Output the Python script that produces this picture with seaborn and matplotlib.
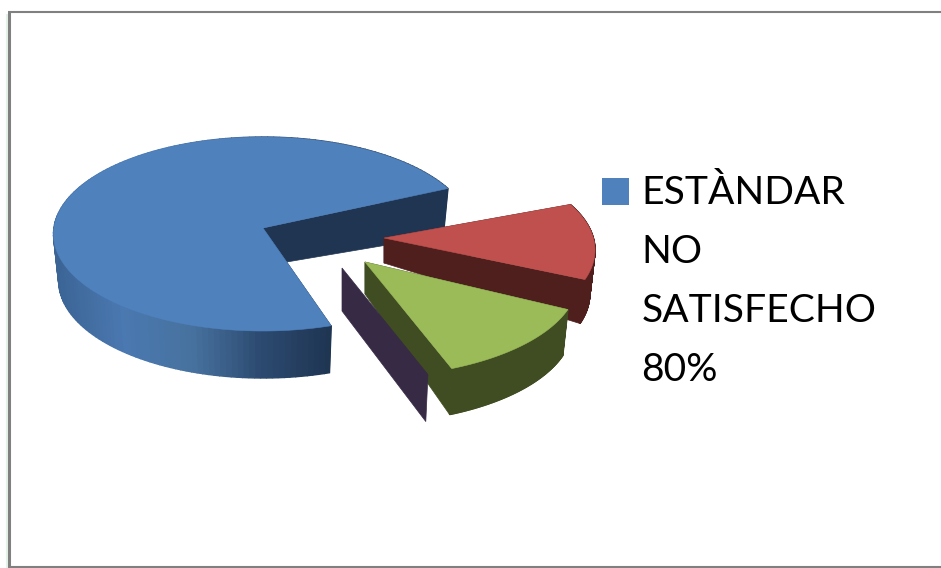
import numpy as np
import matplotlib
matplotlib.use("Agg")
import matplotlib.pyplot as plt
from matplotlib.patches import Polygon, Rectangle
import seaborn as sns

# slice shares (clockwise from the top right cut)
categories = ["Rojo", "Verde", "Morado", "Azul"]
shares = [12.7, 13.4, 1.4, 72.5]
legend_lines = ["ESTÀNDAR", "NO", "SATISFECHO", "80%"]

START_ANGLE = 28
RY = 97
SHRINK = 0.975

# style per slice: apex position, how far the ellipse centre sits below it, depth at apex / rim
style = {
    "Azul": dict(apex=(263, 228), rx=209.5, drop=6, d_apex=38, d_rim=47, top="#4F81BD", face="#1F3552",
                 rim=["#3C6596", "#4A78B0", "#47729F", "#2C4A70", "#1F3552"]),
    "Rojo": dict(apex=(384, 238), rx=211, drop=12, d_apex=25, d_rim=44, top="#C0504D", face="#4F1F1E",
                 rim=["#4F1F1E", "#4F1F1E"]),
    "Verde": dict(apex=(365, 262), rx=213, drop=18, d_apex=32, d_rim=46, top="#9BBB59", face="#404D22",
                  rim=["#404D22", "#404D22"]),
    "Morado": dict(apex=(342, 268), rx=211, drop=18, d_apex=43, d_rim=47, top=None, face="#372A45", rim=None),
}

sns.set_theme(style="white")
plt.rcParams["font.family"] = ["Lato", "DejaVu Sans"]

fig = plt.figure(figsize=(9.41, 5.68), dpi=100)
ax = fig.add_axes([0, 0, 1, 1])
ax.set_xlim(0, 941)
ax.set_ylim(568, 0)
ax.axis("off")


def rim_xy(st, deg):
    ax0, ay0 = st["apex"]
    rad = np.radians(deg)
    return np.column_stack([ax0 + st["rx"] * np.cos(rad), ay0 + st["drop"] - RY * np.sin(rad)])


def lowered(st, xy, depth):
    out = xy.copy()
    out[:, 0] = st["apex"][0] + (xy[:, 0] - st["apex"][0]) * SHRINK
    out[:, 1] = xy[:, 1] + depth
    return out


def radial_face(st, deg, z):
    outer = rim_xy(st, np.array([deg]))
    apex = np.array([st["apex"]], dtype=float)
    pts = np.vstack([apex, outer, lowered(st, outer, st["d_rim"]), apex + [0, st["d_apex"]]])
    ax.add_patch(Polygon(pts, closed=True, fc=st["face"], ec=st["face"], lw=0.5, zorder=z))


def draw_slice(name, a0, a1, z):
    st = style[name]
    radial_face(st, a0, z)
    if st["top"] is None:
        return
    radial_face(st, a1, z)
    deg = np.linspace(a0, a1, 160)
    edge = rim_xy(st, deg)
    low = lowered(st, edge, st["d_rim"])
    cols = sns.blend_palette(st["rim"], 101)
    for i in range(len(deg) - 1):
        t = (edge[i, 0] - (st["apex"][0] - st["rx"])) / (2 * st["rx"])
        if name == "Azul":
            t = np.clip((edge[i, 0] - 53) / (332 - 53), 0, 1)
        c = cols[int(np.clip(t, 0, 1) * 100)]
        quad = [edge[i], edge[i + 1], low[i + 1], low[i]]
        ax.add_patch(Polygon(quad, closed=True, fc=c, ec=c, lw=1.0, zorder=z + 0.1))
    top = np.vstack([[st["apex"]], edge])
    ax.add_patch(Polygon(top, closed=True, fc=st["top"], ec=st["top"], lw=0.4, zorder=z + 0.2))


angle = START_ANGLE
order = {"Azul": 1, "Rojo": 2, "Verde": 3, "Morado": 4}
for name, share in zip(categories, shares):
    span = share / sum(shares) * 360
    draw_slice(name, angle, angle - span, order[name])
    angle -= span

# legend: single entry, as in the original
ax.add_patch(Rectangle((602, 178), 27, 27, fc=style["Azul"]["top"], ec="none", zorder=6))
for i, line in enumerate(legend_lines):
    ax.text(641.5, 204.5 + i * 58.7, line, fontsize=28.1, color="black", ha="left", va="baseline", zorder=6)

# chart frame, no right side in the picture
frame = "#808080"
ax.plot([9.5, 9.5], [12, 568], color=frame, lw=2.2, zorder=7, solid_capstyle="butt")
ax.plot([8.5, 941], [12, 12], color=frame, lw=1.5, zorder=7, solid_capstyle="butt")
ax.plot([8.5, 941], [567, 567], color=frame, lw=1.5, zorder=7, solid_capstyle="butt")
ax.plot([7, 7], [14, 568], color="#E4F3EA", lw=1.5, zorder=6, solid_capstyle="butt")

fig.savefig("out.png", dpi=100, facecolor="white")
